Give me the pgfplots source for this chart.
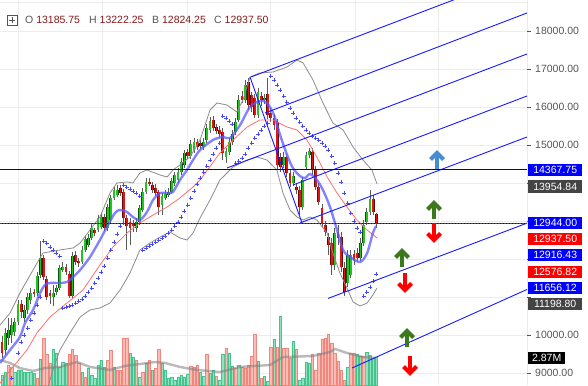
\documentclass[border=0pt]{standalone}
\usepackage{pgfplots}
\usepackage{pgfplotstable}
\pgfplotsset{compat=1.18}
\usepackage{fontspec}
\setmainfont{Liberation Sans}
\setsansfont{Liberation Sans}

\definecolor{cgreen}{RGB}{34,195,34}
\definecolor{cgreenD}{RGB}{15,80,15}
\definecolor{cred}{RGB}{225,20,20}
\definecolor{credD}{RGB}{100,10,10}
\definecolor{wick}{RGB}{90,90,90}
\definecolor{bb}{RGB}{140,140,140}
\definecolor{maB}{RGB}{90,90,255}
\definecolor{maR}{RGB}{255,110,110}
\definecolor{sar}{RGB}{70,70,255}
\definecolor{chan}{RGB}{25,25,255}
\definecolor{hl}{RGB}{0,0,170}
\definecolor{vR}{RGB}{250,188,180}
\definecolor{vRd}{RGB}{240,135,125}
\definecolor{vG}{RGB}{145,226,192}
\definecolor{vGd}{RGB}{70,195,140}
\definecolor{gridc}{RGB}{236,236,236}
\definecolor{axc}{RGB}{85,85,85}
\definecolor{numred}{RGB}{130,25,25}
\definecolor{boxblue}{RGB}{0,0,255}
\definecolor{boxred}{RGB}{255,0,0}
\definecolor{boxdark}{RGB}{68,68,68}
\definecolor{arB}{RGB}{70,140,210}
\definecolor{arG}{RGB}{60,120,30}
\definecolor{arR}{RGB}{255,0,0}

% candles: index, open, high, low, close
\pgfplotstableread{
i o h l c
1 9605 10184 9473 10053
2 9921 10447 9736 10132
3 10000 10447 9789 10263
4 10079 10447 9974 10342
5 10342 10921 10263 10816
7 10447 10789 10342 10658
8 10658 11105 10553 11000
9 10921 11237 10816 11105
11 11105 11658 11026 11553
12 11579 12474 11500 12026
16 11000 11316 10763 11105
17 11131 11316 11052 11237
18 11237 11842 11184 11763
19 11711 11921 11658 11790
22 11026 12184 10973 12079
25 11921 12342 11869 12237
26 12237 12606 12184 12527
27 12368 12659 12316 12553
28 12553 12922 12500 12816
30 12764 13158 12711 13079
31 12843 13211 12790 13105
33 12816 13448 12738 13369
34 13027 13684 12948 13605
35 13605 13922 13553 13816
36 13684 13948 13632 13816
42 12816 13079 12711 12974
43 12974 13421 12895 13342
44 13290 13869 13237 13763
45 13763 14132 13711 14027
50 13421 13737 13158 13658
51 13605 13816 13553 13711
52 13684 13869 13632 13763
53 13763 14132 13711 14053
54 14001 14290 13922 14211
55 14080 14395 14001 14290
56 14290 14659 14211 14553
57 14474 14869 14395 14790
59 14711 15132 14632 15027
60 14869 15185 14790 15079
63 14948 15185 14869 15079
64 15132 15554 15053 15449
65 15396 15738 15317 15632
70 14685 14922 14527 14843
71 14816 15185 14737 15079
72 15079 15396 15001 15290
73 15343 15711 15264 15606
74 15659 16317 15606 16185
76 16185 16711 16106 16580
80 15790 16501 15711 16396
82 16185 16343 16080 16238
88 14474 14816 14395 14685
91 14001 14290 13922 14185
94 13369 14158 13290 14080
95 14421 14816 14343 14737
96 14737 14922 14659 14843
104 11842 12816 11711 12685
108 11369 12237 11263 12105
109 11579 12237 11500 12105
112 12026 12553 11948 12421
113 12421 13027 12342 12895
114 12974 13342 12895 13237
115 13237 13816 13158 13579
}\upc

\pgfplotstableread{
i o h l c
0 9815 9974 9394 9526
6 10816 10921 10447 10605
10 11131 11211 11000 11079
13 12026 12105 11448 11527
14 11474 11553 10921 11000
15 11105 11184 10816 11026
20 11790 11869 11579 11658
21 11606 11685 10973 11026
23 12105 12211 11842 11921
24 11948 12026 11790 11895
29 12764 12816 12606 12685
32 13105 13184 12738 12816
37 13869 13948 13658 13737
38 13763 13843 12895 13079
39 13079 13158 12237 12869
40 12974 13079 12368 12816
41 12922 13027 12711 12869
46 14027 14132 13922 13975
47 13948 14027 13737 13816
48 13869 13975 13658 13737
49 13763 13816 13158 13369
58 14816 14895 14632 14711
61 15079 15159 14869 14948
62 15053 15132 14895 14974
66 15659 15764 15369 15449
67 15474 15554 15290 15369
68 15396 15501 15211 15290
69 15343 15449 14606 14790
75 16290 16422 16106 16185
77 16659 16764 15922 16053
78 16317 16396 15869 16001
79 16238 16343 15711 15790
81 16290 16396 16027 16185
83 16343 16764 15685 15790
84 15843 15974 15606 15711
85 15711 15817 15396 15527
86 15606 15685 14343 14474
87 14685 14790 14290 14421
89 14685 14764 14158 14264
90 14264 14343 13895 14001
92 13895 14001 13711 13816
93 13816 13922 13158 13369
97 14816 14922 14211 14343
98 14343 14448 13816 13895
99 13895 14001 13421 13501
100 13342 13448 12843 12948
101 12895 13001 12606 12711
102 12579 12685 12105 12368
103 12421 12553 11579 11842
105 12711 12895 12368 12553
106 12579 12711 11658 11790
107 11763 11921 11026 11131
110 12132 12237 11842 11974
111 12158 12290 11948 12026
116 13579 13684 13158 13237
117 13185.75 13222.25 12824.25 12937.50
}\dnc

% volume (millions)
\pgfplotstableread{
i v
0 1.03
1 1.33
4 1.33
5 1.54
6 1.54
7 1.33
8 1.33
9 1.33
10 1.23
12 2.67
16 3.69
17 3.28
18 1.85
19 2.36
20 2.26
25 1.33
27 1.74
28 1.03
29 0.72
30 2.05
31 2.56
32 1.85
35 1.85
40 3.28
41 2.87
43 0.82
45 2.26
47 1.54
50 2.26
51 1.54
52 0.72
53 0.82
54 0.51
55 0.82
56 1.03
57 0.82
58 1.13
62 1.33
63 0.92
65 1.23
66 1.54
68 0.51
69 3.18
71 3.28
72 1.95
74 2.05
80 2.46
82 0.92
83 0.41
85 4.72
87 7.07
91 4.51
93 0.51
94 0.72
95 2.36
96 2.26
108 1.85
111 3.18
112 2.97
114 3.38
115 3.08
116 2.77
117 2.87
}\volG

\pgfplotstableread{
i v
2 2.05
3 1.85
11 0.72
13 4.82
14 3.18
15 2.26
21 3.18
22 3.69
23 3.08
24 2.26
26 0.82
33 2.56
34 3.59
36 1.54
37 1.54
38 4.82
39 4.82
42 2.56
44 1.33
46 2.56
48 1.74
49 3.69
59 1.95
60 1.85
61 2.05
64 3.18
67 0.92
70 3.79
73 1.74
75 1.85
76 1.74
77 2.05
78 2.97
79 5.23
81 0.72
84 3.90
86 3.90
88 3.79
89 3.79
90 2.77
92 3.69
97 3.18
98 1.54
99 3.28
100 4.72
101 4.82
102 5.23
103 4.31
104 3.28
105 2.46
106 1.54
107 0.51
109 3.28
110 3.28
113 2.97
}\volR

% parabolic SAR
\pgfplotstableread{
i s
3 8869
5 9526
6 9815
7 10000
8 10184
9 10395
10 10579
11 10789
12 11000
13 12474
14 12421
15 12316
16 12237
17 12158
18 12079
19 10711
20 10737
21 10763
22 10789
23 10842
24 10895
25 10948
26 11026
27 11131
28 11237
29 11369
30 11500
31 11658
32 11816
33 12026
34 12237
35 12448
36 12659
37 12869
38 13948
39 13895
40 13843
41 13790
42 13737
43 13658
44 12237
45 12290
46 12342
47 12395
48 12448
49 12500
50 12553
51 12606
52 12685
53 12764
54 12869
55 12974
56 13105
57 13264
58 13421
59 13605
60 13790
61 13975
62 14132
63 14290
64 14448
65 14606
66 14764
67 14922
68 15053
69 15764
70 15711
71 15632
72 15554
73 14527
74 14579
75 14659
76 14764
77 14922
78 15053
79 15185
80 15290
81 15396
82 15501
83 15580
84 16817
85 16711
86 16580
87 16448
88 16290
89 16132
90 15974
91 15843
92 15711
93 15606
94 15501
95 15396
96 15317
97 15237
98 15185
99 15132
100 15053
101 14974
102 14869
103 14711
104 14527
105 14264
106 14027
107 13737
108 13474
109 13211
110 13001
111 12816
112 12711
113 11026
114 11131
115 11263
116 11421
117 11606
}\sart

\pgfplotsset{base/.style={scale only axis, width=527pt, height=385pt,
  xmin=-0.625, xmax=164.0625, at={(0,0)}, anchor=south west,
  scaled x ticks=false, scaled y ticks=false}}

\newcommand{\uparr}[3]{%
  \begin{scope}[shift={(#1pt,{(385-#2)*1pt})}]
    \draw[#3, line width=4.2pt, line cap=butt] (0,-8.5pt) -- (0,6pt);
    \draw[#3, line width=4.2pt, line join=miter] (-6.5pt,1.5pt) -- (0,8pt) -- (6.5pt,1.5pt);
  \end{scope}}
\newcommand{\dnarr}[3]{%
  \begin{scope}[shift={(#1pt,{(385-#2)*1pt})}]
    \draw[#3, line width=4.2pt, line cap=butt] (0,8.5pt) -- (0,-6pt);
    \draw[#3, line width=4.2pt, line join=miter] (-6.5pt,-1.5pt) -- (0,-8pt) -- (6.5pt,-1.5pt);
  \end{scope}}
\newcommand{\pbox}[4][54pt]{%
  \node[fill=#3, text=white, anchor=west, minimum width=#1, minimum height=12.5pt,
    inner sep=0pt, font=\fontsize{10.5}{12}\selectfont] at (528pt,{(385-#2)*1pt}) {#4};}

\begin{document}
\begin{tikzpicture}
% --- axis A: grid and price scale
\begin{axis}[base, ymin=8684, ymax=18817,
  axis line style={draw=none},
  grid=major, grid style={gridc, line width=0.7pt},
  xtick={5,31.25,57.8,83.75,110.3,136.25}, xticklabels={}, x tick style={draw=none},
  ytick={9000,10000,11000,12000,13000,14000,15000,16000,17000,18000},
  yticklabels={9000.00,10000.00,{},{},{},{},15000.00,16000.00,17000.00,18000.00},
  ytick pos=right, yticklabel pos=right, ytick align=outside,
  major tick length=4pt, y tick style={axc, line width=0.6pt},
  yticklabel style={font=\fontsize{10.5}{12}\selectfont, text=axc, anchor=west, inner sep=0pt, xshift=4pt}]
\draw[gridc, line width=0.8pt] (rel axis cs:0,0.995) -- (rel axis cs:1,0.995);
\draw[axc, line width=0.8pt] (rel axis cs:1,0) -- (rel axis cs:1,1);
\end{axis}

% --- axis B: volume
\begin{axis}[base, ymin=0, ymax=39.46, hide axis]
\addplot[ybar, bar width=2.5pt, bar shift=0pt, fill=vG, draw=vGd, line width=0.4pt] table[x=i, y=v] {\volG};
\addplot[ybar, bar width=2.5pt, bar shift=0pt, fill=vR, draw=vRd, line width=0.4pt] table[x=i, y=v] {\volR};
\addplot[gray, opacity=0.55, line width=2.4pt] coordinates {
(-0.6,2.56) (2.5,2.26) (5.6,1.74) (9.7,1.44) (13.4,1.74) (18.1,1.85) (23.4,2.36)
(27.5,1.85) (33.75,1.54) (38.4,1.95) (43.1,2.15) (47.8,2.36) (50.9,2.26) (55.6,1.85)
(60.9,1.54) (68.1,1.33) (74.4,1.85) (83.75,2.05) (87.8,2.87) (97.2,2.97) (102.5,3.38)
(104.1,3.69) (107.8,3.28) (112.8,2.87) (116.9,2.77)};
\end{axis}

% --- axis C: price series
\begin{axis}[base, ymin=8684, ymax=18817, hide axis, clip mode=individual]
% wicks
\addplot[forget plot, draw=none, mark=none, error bars/.cd, y dir=plus, y explicit, error mark=none,
  error bar style={draw=wick, line width=0.7pt}]
  table[x=i, y=l, y error plus expr=\thisrow{h}-\thisrow{l}] {\upc};
\addplot[forget plot, draw=none, mark=none, error bars/.cd, y dir=plus, y explicit, error mark=none,
  error bar style={draw=wick, line width=0.7pt}]
  table[x=i, y=l, y error plus expr=\thisrow{h}-\thisrow{l}] {\dnc};
% bodies
\addplot[forget plot, draw=none, mark=none, error bars/.cd, y dir=plus, y explicit, error mark=none,
  error bar style={draw=cgreenD, line width=2.9pt}]
  table[x=i, y=o, y error plus expr=\thisrow{c}-\thisrow{o}] {\upc};
\addplot[forget plot, draw=none, mark=none, error bars/.cd, y dir=plus, y explicit, error mark=none,
  error bar style={draw=cgreen, line width=1.8pt}]
  table[x=i, y=o, y error plus expr=\thisrow{c}-\thisrow{o}] {\upc};
\addplot[forget plot, draw=none, mark=none, error bars/.cd, y dir=plus, y explicit, error mark=none,
  error bar style={draw=credD, line width=2.9pt}]
  table[x=i, y=c, y error plus expr=\thisrow{o}-\thisrow{c}] {\dnc};
\addplot[forget plot, draw=none, mark=none, error bars/.cd, y dir=plus, y explicit, error mark=none,
  error bar style={draw=cred, line width=1.8pt}]
  table[x=i, y=c, y error plus expr=\thisrow{o}-\thisrow{c}] {\dnc};

% Bollinger bands
\addplot[bb, line width=0.8pt] coordinates {
(-0.6,10263) (2.5,10579) (5.6,11105) (9.7,11711) (12.8,12158) (18.1,12237) (22.2,12290)
(24.4,12421) (27.5,12764) (30.6,13105) (33.75,13737) (35.9,14001) (39.1,14027) (40.9,14001)
(43.1,14264) (45.3,14343) (49.4,14211) (51.6,14158) (53.4,14343) (55.6,14474) (58.75,14685)
(61.9,15132) (65,15922) (67.2,16106) (70.3,16053) (73.4,15869) (75.3,16185) (77.5,16790)
(80.6,16896) (84.7,16922) (89.1,17054) (92.2,17238) (94.1,17159) (97.2,16711) (100.3,16106)
(103.4,15580) (106.6,15396) (109.7,14948) (112.8,14606) (115.6,14343) (117.2,13974)};
\addplot[bb, line width=0.8pt] coordinates {
(11.25,8421) (14.1,8553) (15.9,9079) (18.1,9605) (21.25,10053) (24.4,10474) (27.5,10658)
(30.6,10711) (33.75,10842) (36.9,11184) (40,11632) (43.1,12237) (46.25,12421) (49.4,12579)
(52.5,12711) (55.6,12553) (57.8,12500) (59.7,12685) (61.9,13079) (65,13553) (68.1,14080)
(72.2,14421) (76.6,14606) (79.7,14685) (82.8,14606) (85.9,14343) (87.8,13737) (90,13290)
(92.2,13105) (94.1,13027) (96.25,13105) (98.4,13027) (101.6,12685) (103.4,12158) (105.6,11632)
(107.8,11237) (109.7,10869) (111.9,10763) (114.1,10842) (115.9,11053) (117.2,11237)};
% red MA
\addplot[maR, line width=0.8pt] coordinates {
(-0.6,8737) (3.4,9158) (7.8,9605) (10.9,10053) (15,10474) (20.3,10842) (25.3,11184)
(30.6,11842) (34.7,12316) (39.1,12685) (43.1,12948) (47.2,13158) (51.6,13369) (55.6,13605)
(59.7,13895) (61.9,14080) (68.1,14790) (72.2,15132) (76.6,15474) (80.6,15659) (84.7,15659)
(89.1,15474) (92.2,15396) (95.3,15132) (98.4,14685) (101.6,14158) (104.7,13737) (107.8,13369)
(110.9,13027) (114.1,12764) (117.2,12553)};
% blue MA
\addplot[maB, opacity=0.75, line width=2.4pt, smooth] coordinates {
(-0.6,9263) (2.5,9605) (5.6,9948) (7.2,10316) (9.7,10658) (11.9,11105) (13.4,11316) (15,11369)
(18.1,11369) (20.3,11395) (21.9,11500) (24.4,11711) (27.5,12053) (30.6,12500) (32.8,12843)
(35.3,13211) (36.9,13290) (39.1,13237) (40.9,13105) (43.1,13027) (45.3,13237) (47.2,13553)
(49.4,13737) (51.6,13737) (53.4,13763) (55.6,14080) (57.8,14343) (59.7,14606) (61.9,14869)
(65.9,15132) (69.1,15211) (71.25,15185) (74.4,15527) (77.5,16001) (80.6,16159) (82.8,16106)
(85,15790) (86.9,15264) (89.1,14737) (90.9,14395) (93.1,14185) (94.7,14132) (96.25,14237)
(98.4,14080) (100.3,13816) (102.5,13369) (104.7,12764) (106.6,12237) (108.75,12053)
(111.9,11921) (114.1,12158) (115.9,12685) (116.9,12869)};
% parabolic SAR
\addplot[only marks, mark=+, mark size=2pt, sar, line width=0.8pt] table[x=i, y=s] {\sart};

% channel lines
\addplot[chan, line width=0.9pt] coordinates {(77.8,16790) (164.06,19554)};
\addplot[chan, line width=0.9pt] coordinates {(82.2,15843) (164.06,18475)};
\addplot[chan, line width=0.9pt] coordinates {(70.3,14395) (164.06,17396)};
\addplot[chan, line width=0.9pt] coordinates {(90.9,13948) (164.06,16290)};
\addplot[chan, line width=0.9pt] coordinates {(93.1,12948) (164.06,15211)};
\addplot[chan, line width=0.9pt] coordinates {(101.9,10963) (164.06,12944)};
\addplot[chan, line width=0.9pt] coordinates {(109.4,9132) (164.06,11198.8)};
\addplot[chan, line width=0.9pt] coordinates {(77.5,16790) (93.75,12948)};
% horizontal levels
\addplot[hl, line width=1pt] coordinates {(-0.625,14367.75) (164.0625,14367.75)};
\addplot[hl, line width=1pt] coordinates {(-0.625,12944) (164.0625,12944)};
\addplot[red, line width=1pt, dash pattern=on 1.5pt off 1.5pt] coordinates {(-0.625,12944) (164.0625,12944)};
\end{axis}

% arrows
\uparr{437}{161}{arB}
\uparr{434}{211}{arG}
\dnarr{434}{232}{arR}
\uparr{402}{259}{arG}
\dnarr{405}{282}{arR}
\uparr{407}{339}{arG}
\dnarr{410}{365}{arR}

% right-hand price boxes
\pbox{170}{boxblue}{14367.75}
\pbox{186.5}{boxdark}{13954.84}
\pbox{223}{boxblue}{12944.00}
\pbox{239}{boxred}{12937.50}
\pbox{255}{boxblue}{12916.43}
\pbox{272}{boxred}{12576.82}
\pbox{288}{boxblue}{11656.12}
\pbox{304}{boxdark}{11198.80}
\pbox[37pt]{358}{black}{2.87M}

% legend
\draw[axc, line width=0.6pt] (7pt,360pt) rectangle (17pt,370pt);
\draw[axc, line width=0.6pt] (9pt,365pt) -- (15pt,365pt) (12pt,362pt) -- (12pt,368pt);
\begin{scope}[every node/.style={anchor=base west, inner sep=0pt, font=\fontsize{10.5}{12}\selectfont}]
\node at (25pt,361pt) {\textcolor{axc}{O}\ \textcolor{numred}{13185.75}};
\node at (89pt,361pt) {\textcolor{axc}{H}\ \textcolor{numred}{13222.25}};
\node at (152pt,361pt) {\textcolor{axc}{B}\ \textcolor{numred}{12824.25}};
\node at (214pt,361pt) {\textcolor{axc}{C}\ \textcolor{numred}{12937.50}};
\end{scope}

\pgfresetboundingbox
\useasboundingbox (0,0) rectangle (588pt,385pt);
\end{tikzpicture}
\end{document}
